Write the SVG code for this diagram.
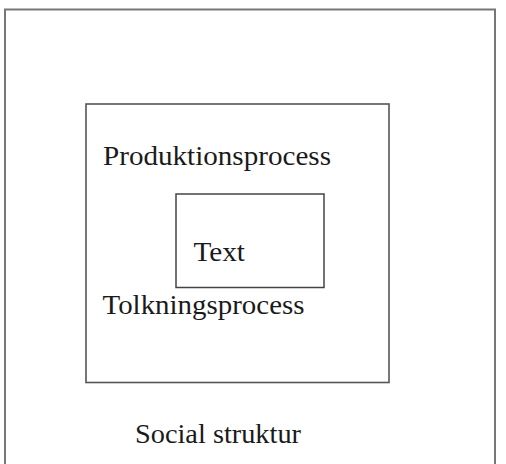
<svg xmlns="http://www.w3.org/2000/svg" width="506" height="464" viewBox="0 0 506 464">
<style>
.box{fill:none}
.lbl{font-family:"Liberation Serif","Times New Roman",serif;font-size:27.5px;fill:#1a1a1a}
</style>
<rect width="506" height="464" fill="#ffffff"/>
<g id="social-struktur">
<rect class="box" x="5" y="9.5" width="490" height="470" stroke="#777" stroke-width="2"/>
<text class="lbl" x="135" y="443" textLength="166" lengthAdjust="spacingAndGlyphs">Social struktur</text>
</g>
<g id="process">
<rect class="box" x="86" y="104" width="303" height="278.5" stroke="#555" stroke-width="1.6"/>
<text class="lbl" x="103" y="165" textLength="228" lengthAdjust="spacingAndGlyphs">Produktionsprocess</text>
<text class="lbl" x="102.5" y="314" textLength="202" lengthAdjust="spacingAndGlyphs">Tolkningsprocess</text>
</g>
<g id="text-node">
<rect class="box" x="176" y="194" width="148" height="93.5" stroke="#444" stroke-width="1.5"/>
<text class="lbl" x="193.5" y="260.5" textLength="51.5" lengthAdjust="spacingAndGlyphs">Text</text>
</g>
<g id="connectors"></g>
</svg>
